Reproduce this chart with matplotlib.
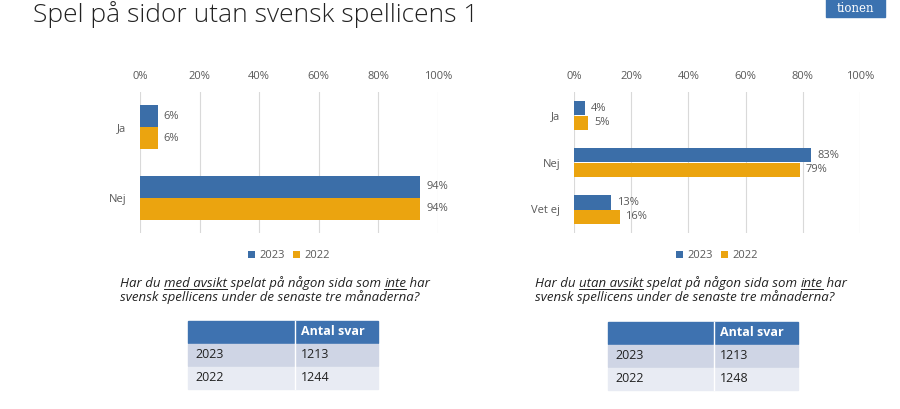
import matplotlib
matplotlib.use('Agg')
import matplotlib.pyplot as plt
from matplotlib.patches import Rectangle
import numpy as np

# data
years = ['2023', '2022']
left_cats = ['Ja', 'Nej']
left_2023 = [6, 94]
left_2022 = [6, 94]
right_cats = ['Ja', 'Nej', 'Vet ej']
right_2023 = [4, 83, 13]
right_2022 = [5, 79, 16]
left_counts = [1213, 1244]
right_counts = [1213, 1248]
ticks = [0, 20, 40, 60, 80, 100]

BLUE = '#3b6ea8'
ORANGE = '#eba40f'
GRAY = '#595959'
W, H = 900, 409

plt.rcParams['font.family'] = ['Open Sans', 'DejaVu Sans']

fig = plt.figure(figsize=(W / 100, H / 100), dpi=100)
fig.patch.set_facecolor('white')


def px_axes(x0, x1, y0, y1):
    return fig.add_axes([x0 / W, 1 - y1 / H, (x1 - x0) / W, (y1 - y0) / H])


def bar_chart(ax, cats, v23, v22, bh):
    y = np.arange(len(cats))
    ax.barh(y - bh / 2, v23, height=bh, color=BLUE, label=years[0], zorder=3)
    ax.barh(y + bh / 2, v22, height=bh, color=ORANGE, label=years[1], zorder=3)
    for yi, a, b in zip(y, v23, v22):
        ax.text(a + 2, yi - bh / 2, f'{a}%', va='center', ha='left', fontsize=8, color=GRAY)
        ax.text(b + 2, yi + bh / 2, f'{b}%', va='center', ha='left', fontsize=8, color=GRAY)
    ax.set_xlim(0, 100)
    ax.set_ylim(len(cats) - 0.5, -0.5)
    ax.set_xticks(ticks)
    ax.set_xticklabels([f'{t}%' for t in ticks], fontsize=8, color=GRAY)
    ax.xaxis.tick_top()
    ax.tick_params(axis='x', length=0, pad=7)
    ax.set_yticks(y)
    ax.set_yticklabels(cats, fontsize=8, color=GRAY)
    ax.tick_params(axis='y', length=0, pad=10)
    ax.grid(axis='x', color='#d9d9d9', lw=0.8, zorder=0)
    for s in ax.spines.values():
        s.set_visible(False)
    ax.legend(loc='upper center', bbox_to_anchor=(0.5, -0.05), ncol=2, frameon=False,
              fontsize=8, handlelength=0.6, handleheight=0.6, handletextpad=0.4,
              columnspacing=0.8, labelcolor=GRAY)


axl = px_axes(140, 438, 92, 233)
bar_chart(axl, left_cats, left_2023, left_2022, 0.31)
axr = px_axes(574, 860, 92, 233)
bar_chart(axr, right_cats, right_2023, right_2022, 0.30)

# overlay in pixel coordinates
ov = fig.add_axes([0, 0, 1, 1], zorder=-1)
ov.set_xlim(0, W)
ov.set_ylim(H, 0)
ov.axis('off')

ov.text(33, 22, 'Spel på sidor utan svensk spellicens 1', fontsize=19, color='#222222',
        va='baseline', ha='left', fontweight='light')
ov.add_patch(Rectangle((826, -2), 59, 19, color='#3b72b0'))
ov.text(855, 8, 'tionen', color='white', fontsize=8.5, ha='center', va='center',
        family='DejaVu Serif')

fig.canvas.draw()
renderer = fig.canvas.get_renderer()


def question(x, y, parts):
    # parts: list of (text, underlined)
    cur = x
    for txt, ul in parts:
        t = ov.text(cur, y, txt, fontsize=9.5, style='italic', color='#222222', va='baseline', ha='left')
        w = t.get_window_extent(renderer).width
        if ul:
            ov.plot([cur, cur + w], [y + 2, y + 2], color='#222222', lw=0.7)
        cur += w


def table(x0, xs, x1, y0, rh, counts):
    ov.add_patch(Rectangle((x0, y0), x1 - x0, rh, color='#3e72b0'))
    ov.plot([xs, xs], [y0, y0 + rh], color='white', lw=1)
    ov.text(xs + 6, y0 + rh / 2, 'Antal svar', color='white', fontweight='bold', fontsize=9, va='center')
    fills = ['#cfd5e5', '#e8ebf3']
    for i, (yr, c) in enumerate(zip(years, counts)):
        yy = y0 + (i + 1) * (rh + 1.5)
        ov.add_patch(Rectangle((x0, yy), x1 - x0, rh, color=fills[i]))
        ov.plot([xs, xs], [yy, yy + rh], color='white', lw=1)
        ov.text(x0 + 7, yy + rh / 2, yr, fontsize=9, color='#222222', va='center')
        ov.text(xs + 6, yy + rh / 2, str(c), fontsize=9, color='#222222', va='center')


question(120, 287, [('Har du ', False), ('med avsikt', True), (' spelat på någon sida som ', False),
                    ('inte', True), (' har', False)])
question(120, 301, [('svensk spellicens under de senaste tre månaderna?', False)])
question(535, 287, [('Har du ', False), ('utan avsikt', True), (' spelat på någon sida som ', False),
                    ('inte', True), (' har', False)])
question(535, 301, [('svensk spellicens under de senaste tre månaderna?', False)])

table(188, 295, 378, 321, 21.5, left_counts)
table(608, 714, 798, 322, 21.5, right_counts)

fig.savefig('out.png', dpi=100, facecolor='white')
